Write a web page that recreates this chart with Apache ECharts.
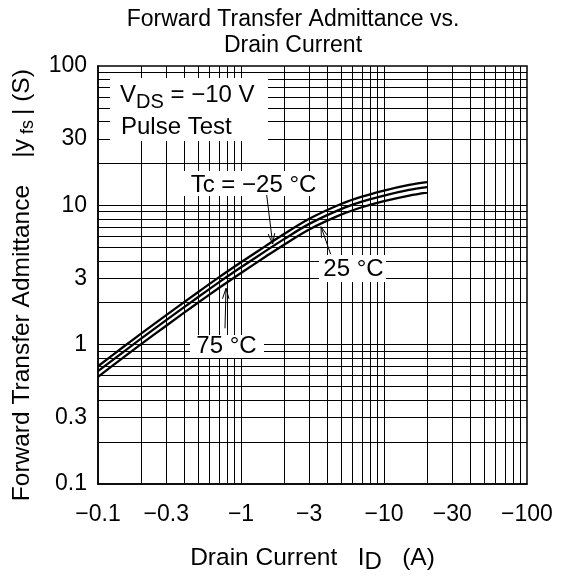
<!DOCTYPE html>
<html><head><meta charset="utf-8">
<script src="https://cdn.jsdelivr.net/npm/echarts@6/dist/echarts.min.js"></script>
<style>html,body{margin:0;padding:0;background:#fff}#c{width:564px;height:579px}</style>
</head><body><div id="c"></div>
<script>
// |I_D| in A (axis shows negative currents)
const drainCurrentMagA = [0.1, 0.15, 0.2, 0.3, 0.5, 0.7, 1, 1.5, 2, 3, 5, 7, 10, 15, 20];
const yfsTcMinus25 = [0.70, 0.962, 1.20, 1.63, 2.38, 3.04, 3.90, 5.14, 6.22, 8.00, 10.22, 11.55, 12.77, 14.02, 14.68];
const yfsTc25      = [0.645, 0.885, 1.105, 1.50, 2.19, 2.80, 3.59, 4.73, 5.72, 7.36, 9.40, 10.62, 11.75, 12.9, 13.5];
const yfsTc75      = [0.588, 0.807, 1.008, 1.368, 2.00, 2.55, 3.27, 4.31, 5.22, 6.71, 8.57, 9.69, 10.72, 11.76, 12.35];

const xTickValues = [0.1, 0.3, 1, 3, 10, 30, 100];
const xTickLabels = ['\u22120.1', '\u22120.3', '\u22121', '\u22123', '\u221210', '\u221230', '\u2212100'];
const yTickValues = [0.1, 0.3, 1, 3, 10, 30, 100];
const yTickLabels = ['0.1', '0.3', '1', '3', '10', '30', '100'];

const xGridValues = [0.2,0.3,0.4,0.5,0.6,0.7,0.8,0.9,1,2,3,4,5,6,7,8,9,10,20,30,40,50,60,70,80,90];
const yGridValues = [0.2,0.3,0.4,0.5,0.6,0.7,0.8,0.9,1,2,3,4,5,6,7,8,9,10,20,30,40,50,60,70,80,90];

const FONT = 'Liberation Sans, Arial, sans-serif';

function lookup(vals, labels, v) {
  for (let i = 0; i < vals.length; i++) if (Math.abs(vals[i] - v) / vals[i] < 1e-6) return labels[i];
  return '';
}
function pairs(ys) { return drainCurrentMagA.map((x, i) => [x, ys[i]]); }

const chart = echarts.init(document.getElementById('c'), null, {renderer: 'canvas'});

const curveStyle = {color: '#000', width: 2.3};
function curve(name, ys) {
  return {name, type: 'line', data: pairs(ys), smooth: 0.3, showSymbol: false, symbol: 'none',
    lineStyle: curveStyle, z: 5, silent: true};
}

const option = {
  animation: false,
  backgroundColor: '#fff',
  title: {
    text: 'Forward Transfer Admittance vs.\nDrain Current',
    left: 293, top: 7, padding: 0, textAlign: 'center',
    textStyle: {fontFamily: FONT, fontSize: 23, fontWeight: 'normal', color: '#000', lineHeight: 25.5}
  },
  grid: {left: 98, top: 66, width: 429, height: 428, show: true, borderColor: '#000', borderWidth: 1.5, containLabel: false},
  xAxis: {
    type: 'log', logBase: 10, min: 0.1, max: 100,
    axisLine: {show: true, lineStyle: {color: '#000', width: 1.5}},
    axisTick: {show: false},
    splitLine: {show: false},
    axisLabel: {customValues: xTickValues, margin: 19, color: '#000', fontFamily: FONT, fontSize: 23,
      formatter: v => lookup(xTickValues, xTickLabels, v)},
    name: '{n|Drain Current   I}{s|D}{n|   (A)}',
    nameLocation: 'middle', nameGap: 59,
    nameTextStyle: {fontFamily: FONT, fontSize: 24.5, color: '#000',
      rich: {n: {fontFamily: FONT, fontSize: 24.5, color: '#000', verticalAlign: 'middle'},
             s: {fontFamily: FONT, fontSize: 24, color: '#000', verticalAlign: 'middle', padding: [7, 0, 0, 0]}}}
  },
  yAxis: {
    type: 'log', logBase: 10, min: 0.1, max: 100,
    axisLine: {show: true, lineStyle: {color: '#000', width: 1.5}},
    axisTick: {show: false},
    splitLine: {show: false},
    axisLabel: {customValues: yTickValues, margin: 11, color: '#000', fontFamily: FONT, fontSize: 23,
      formatter: v => lookup(yTickValues, yTickLabels, v)},
    name: '{n|Forward Transfer Admittance    |y}{s| fs }{n|| (S)   }',
    nameLocation: 'middle', nameGap: 61, nameRotate: 90,
    nameTextStyle: {fontFamily: FONT, fontSize: 24.5, color: '#000',
      rich: {n: {fontFamily: FONT, fontSize: 24.5, color: '#000', verticalAlign: 'middle'},
             s: {fontFamily: FONT, fontSize: 18, color: '#000', verticalAlign: 'middle', padding: [12, 0, 0, 0]}}}
  },
  series: [
    {name: 'grid', type: 'line', data: [], z: 1, silent: true,
      markLine: {silent: true, symbol: ['none', 'none'], animation: false,
        label: {show: false}, emphasis: {disabled: true},
        lineStyle: {color: '#000', width: 1, type: 'solid'},
        data: xGridValues.map(v => ({xAxis: v})).concat(yGridValues.map(v => ({yAxis: v})))}},
    curve('Tc = \u221225 \u00b0C', yfsTcMinus25),
    curve('Tc = 25 \u00b0C', yfsTc25),
    curve('Tc = 75 \u00b0C', yfsTc75)
  ]
};
chart.setOption(option);

// annotations (pixel layout)
function arrow(x1, y1, x2, y2) {
  const a = Math.atan2(y2 - y1, x2 - x1), L = 11, w = 0.3;
  return [
    {type: 'polyline', z: 110, shape: {points: [[x1, y1], [x2, y2]]}, style: {stroke: '#000', lineWidth: 1, fill: null}},
    {type: 'polyline', z: 110, shape: {points: [
      [x2 - L * Math.cos(a - w), y2 - L * Math.sin(a - w)], [x2, y2],
      [x2 - L * Math.cos(a + w), y2 - L * Math.sin(a + w)]]},
      style: {stroke: '#000', lineWidth: 1, fill: null}}
  ];
}
function box(x, y, w, h) { return {type: 'rect', z: 100, shape: {x, y, width: w, height: h}, style: {fill: '#fff'}}; }
function label(text, x, y, align) {
  return {type: 'text', z: 105, x, y, style: {text, fontFamily: FONT, fontSize: 24, fill: '#000',
    textAlign: align || 'center', textVerticalAlign: 'middle'}};
}
const graphics = [
  box(110, 78, 158, 63),
  {type: 'text', z: 105, x: 120, y: 95, style: {
    text: '{n|V}{s|DS}{n| = \u221210 V}', fontFamily: FONT, fontSize: 24, fill: '#000', textAlign: 'left', textVerticalAlign: 'middle',
    rich: {n: {fontFamily: FONT, fontSize: 24, fill: '#000', verticalAlign: 'middle'},
           s: {fontFamily: FONT, fontSize: 20, fill: '#000', verticalAlign: 'middle', padding: [14, 0, 0, 0]}}}},
  label('Pulse Test', 121, 127, 'left'),
  box(184, 171, 138, 25), label('Tc = \u221225 \u00b0C', 253.5, 185),
  box(319, 255, 67, 27), label('25 \u00b0C', 353.5, 269),
  box(190, 335, 74, 23), label('75 \u00b0C', 226.5, 346.5)
].concat(arrow(266.7, 195, 272.7, 244), arrow(330.7, 254.3, 321, 226.7), arrow(225, 328.3, 226, 288.3));
chart.setOption({graphic: graphics});
</script></body></html>
